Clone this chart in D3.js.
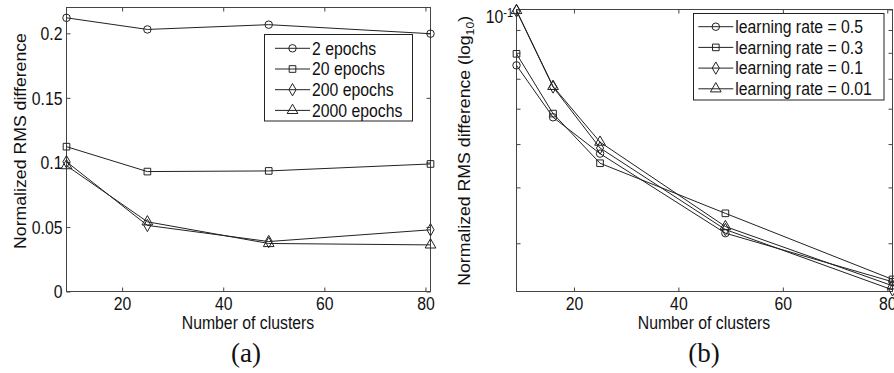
<!DOCTYPE html>
<html>
<head>
<meta charset="utf-8">
<script src="https://d3js.org/d3.v7.min.js"></script>
<style>
  body { margin: 0; background: #fff; }
  svg text { font-family: "Liberation Sans", Arial, sans-serif; fill: #111; }
  .line { fill: none; stroke: #222; stroke-width: 1px; }
  .mark { fill: none; stroke: #222; stroke-width: 1px; }
  .tick line { stroke: #444; }
</style>
</head>
<body>
<svg width="894" height="373"></svg>
<script>
// panel (a): error vs clusters for different epoch counts
const clustersA = [9, 25, 49, 81];
const epochs2 = [0.2120, 0.2030, 0.2067, 0.1997];
const epochs20 = [0.1122, 0.0929, 0.0934, 0.0988];
const epochs200 = [0.1005, 0.0512, 0.0387, 0.0478];
const epochs2000 = [0.0975, 0.0540, 0.0372, 0.0361];
const namesA = ["2 epochs", "20 epochs", "200 epochs", "2000 epochs"];
const ticksYA = [0, 0.05, 0.1, 0.15, 0.2];

// panel (b): log error vs clusters for different learning rates
const clustersB = [9, 16, 25, 49, 81];
const lr05 = [0.0750, 0.0574, 0.0476, 0.0316, 0.0246];
const lr03 = [0.0796, 0.0585, 0.0453, 0.0350, 0.0249];
const lr01 = [0.0993, 0.0671, 0.0490, 0.0322, 0.0236];
const lr001 = [0.0995, 0.0673, 0.0505, 0.0327, 0.0241];
const namesB = ["learning rate = 0.5", "learning rate = 0.3", "learning rate = 0.1", "learning rate = 0.01"];
const ticksYB = [0.03, 0.04, 0.05, 0.06, 0.07, 0.08, 0.09, 0.1];

const ticksX = [20, 40, 60, 80];
const shapes = [d3.symbolCircle, d3.symbolSquare, d3.symbolDiamond, d3.symbolTriangle];

const svg = d3.select("svg");
const fs = 15.8;
const stretch = "scale(1,1.12)"; // glyphs in the picture are a bit taller than wide

function panel(o) {
  let g = svg.append("g");
  let x = d3.scaleLinear().domain([9, 81]).range([o.l, o.r]);
  let y = o.y;

  // ticks on all four sides, pointing inwards
  let bottom = g.append("g").attr("transform", "translate(0," + o.b + ")")
    .call(d3.axisBottom(x).tickValues(ticksX).tickSize(-4).tickSizeOuter(0));
  bottom.attr("font-size", null).attr("font-family", null);
  bottom.selectAll("text").attr("y", null).attr("dy", null).attr("fill", "#111")
    .attr("font-size", fs).attr("transform", "translate(0,18) " + stretch);

  let top = g.append("g").attr("transform", "translate(0," + o.t + ")")
    .call(d3.axisTop(x).tickValues(ticksX).tickSize(-4).tickSizeOuter(0));
  top.selectAll("text").remove();

  let left = g.append("g").attr("transform", "translate(" + o.l + ",0)")
    .call(d3.axisLeft(y).tickValues(o.yticks).tickSize(-4).tickSizeOuter(0).tickFormat(o.yfmt || ""));
  left.attr("font-size", null).attr("font-family", null);
  left.selectAll("text").attr("x", null).attr("dy", null).attr("fill", "#111")
    .attr("font-size", fs).attr("transform", "translate(-4,6.3) " + stretch);

  let right = g.append("g").attr("transform", "translate(" + o.r + ",0)")
    .call(d3.axisRight(y).tickValues(o.yticks).tickSize(-4).tickSizeOuter(0));
  right.selectAll("text").remove();
  g.selectAll(".domain").remove();

  // box
  g.append("rect").attr("x", o.l).attr("y", o.t).attr("width", o.r - o.l).attr("height", o.b - o.t)
    .attr("fill", "none").attr("stroke", "#444");

  let line = d3.line().x(function(d) { return x(d.c); }).y(function(d) { return y(d.v); });

  o.series.forEach(function(vals, i) {
    let pts = o.xs.map(function(c, j) { return {c: c, v: vals[j]}; });
    g.append("path").attr("class", "line").attr("d", line(pts));
    g.selectAll(null).data(pts).enter().append("path")
      .attr("class", "mark")
      .attr("transform", function(d) { return "translate(" + x(d.c) + "," + y(d.v) + ")"; })
      .attr("d", d3.symbol().type(shapes[i]).size(i == 3 ? 50 : 44));
  });

  // legend
  g.append("rect").attr("x", o.lg.x).attr("y", o.lg.y).attr("width", o.lg.w).attr("height", o.lg.h)
    .attr("fill", "#fff").attr("stroke", "#222");
  o.names.forEach(function(n, i) {
    let ry = o.lg.row0 + i * 20.7;
    g.append("line").attr("class", "line").attr("x1", o.lg.lx).attr("x2", o.lg.lx + 35)
      .attr("y1", ry).attr("y2", ry);
    g.append("path").attr("class", "mark")
      .attr("transform", "translate(" + (o.lg.lx + 17.5) + "," + ry + ")")
      .attr("d", d3.symbol().type(shapes[i]).size(i == 3 ? 50 : 44));
    g.append("text").attr("font-size", fs)
      .attr("transform", "translate(" + (o.lg.lx + 37) + "," + (ry + 6.3) + ") " + stretch)
      .text(n);
  });

  // axis titles
  g.append("text").attr("font-size", fs).attr("text-anchor", "middle")
    .attr("transform", "translate(" + o.xlab[0] + "," + o.xlab[1] + ") " + stretch)
    .text("Number of clusters");
  let yl = g.append("text").attr("font-size", fs).attr("text-anchor", "middle")
    .attr("transform", "translate(" + o.ylab[0] + "," + o.ylab[1] + ") " + stretch + " rotate(-90)")
    .text("Normalized RMS difference");
  if (o.log) {
    yl.append("tspan").text(" (log");
    yl.append("tspan").attr("font-size", 11).attr("dy", 4).text("10");
    yl.append("tspan").attr("dy", -4).text(")");
  }
  g.append("text").attr("text-anchor", "middle").attr("x", o.cap[0]).attr("y", o.cap[1])
    .style("font-family", "'Liberation Serif', 'Times New Roman', serif").attr("font-size", 27)
    .text(o.capText);
  return g;
}

panel({
  l: 66.5, r: 430.5, t: 7.5, b: 291.5,
  y: d3.scaleLinear().domain([0, 0.22]).range([291.5, 7.5]),
  yticks: ticksYA, yfmt: function(d) { return String(d); },
  xs: clustersA, series: [epochs2, epochs20, epochs200, epochs2000], names: namesA,
  lg: {x: 264.5, y: 34.5, w: 148, h: 86.5, lx: 275, row0: 48.3},
  xlab: [248, 329], ylab: [25.5, 141], cap: [246, 362], capText: "(a)"
});

let pb = panel({
  l: 516.5, r: 892.5, t: 9.5, b: 291.5, log: true,
  y: d3.scaleLog().domain([0.0234, 0.1]).range([291.5, 9.5]),
  yticks: ticksYB,
  xs: clustersB, series: [lr05, lr03, lr01, lr001], names: namesB,
  lg: {x: 693.5, y: 13.5, w: 190.5, h: 86.5, lx: 698.3, row0: 26.7},
  xlab: [704, 329], ylab: [469.5, 150.8], cap: [704, 362], capText: "(b)"
});

// 10^-1 label at the top of the log axis
let dec = pb.append("text").attr("font-size", fs).attr("text-anchor", "end")
  .attr("transform", "translate(513,23.3) " + stretch);
dec.append("tspan").text("10");
dec.append("tspan").attr("font-size", 11).attr("dy", -6).text("-1");
</script>
</body>
</html>
